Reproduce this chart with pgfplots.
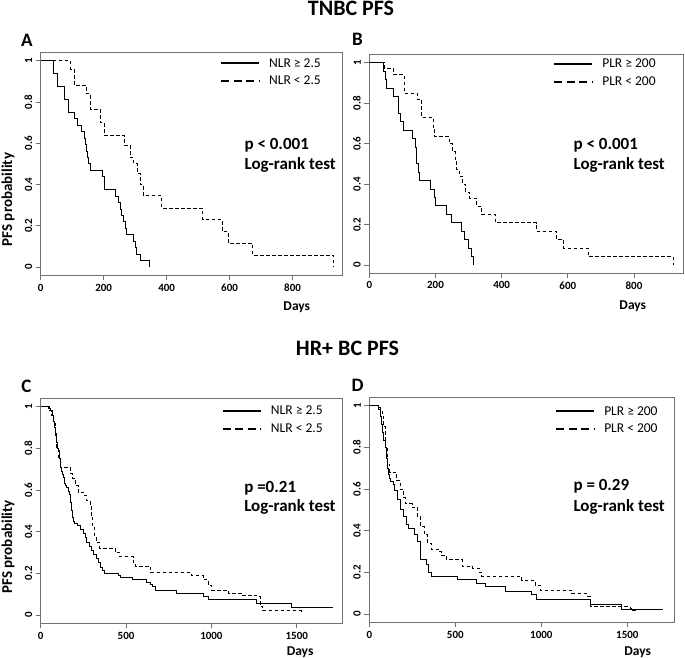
\documentclass[border=0pt]{standalone}
\usepackage{pgfplots}
\pgfplotsset{compat=1.18}
\usepackage{fontspec}
\setmainfont{Carlito}
\definecolor{boxgray}{HTML}{707070}
\begin{document}
\begin{tikzpicture}
\pgfplotsset{
  km/.style={
    scale only axis, xmin=0, ymin=-0.04, ymax=1.04, clip mode=individual,
    axis line style={draw=boxgray, line width=0.8pt},
    tick style={draw=boxgray, line width=0.8pt},
    tick align=outside, major tick length=5pt, tick pos=left,
    ytick={0,0.2,0.4,0.6,0.8,1},
    /pgf/number format/assume math mode=true,
    /pgf/number format/1000 sep={},
    ticklabel style={font=\bfseries\fontsize{11}{13}\selectfont},
    yticklabel style={rotate=90, anchor=south},
    legend image code/.code={\draw[#1] (0pt,0pt) -- (38pt,0pt);},
    legend style={draw=none, fill=none, inner sep=0pt, anchor=north west,
      font=\fontsize{13.5}{15}\selectfont, row sep=3pt,
      /tikz/every odd column/.append style={column sep=7pt}},
    legend cell align=left,
  },
  solidkm/.style={const plot, black, line width=0.9pt,
    legend image post style={line width=2pt}},
  dashkm/.style={const plot, black, line width=0.9pt, dash pattern=on 3.5pt off 2.5pt,
    legend image post style={line width=2pt, dash pattern=on 8pt off 4.5pt}},
}
\path[use as bounding box] (0pt,0pt) rectangle (685pt,658pt);

\node[font=\bfseries\fontsize{22}{24}\selectfont] at (351pt,650pt) {TNBC PFS};
\node[font=\bfseries\fontsize{22}{24}\selectfont] at (347.5pt,309.7pt) {HR+ BC PFS};
\node[font=\bfseries\fontsize{19}{21}\selectfont] at (27pt,617.5pt) {A};
\node[font=\bfseries\fontsize{19}{21}\selectfont] at (357.5pt,619pt) {B};
\node[font=\bfseries\fontsize{19}{21}\selectfont] at (26.5pt,272pt) {C};
\node[font=\bfseries\fontsize{19}{21}\selectfont] at (357.5pt,273pt) {D};

% A: TNBC, NLR
\begin{axis}[km, at={(40.7pt,382.7pt)}, anchor=south west,
  width=301.3pt, height=222.8pt, xmax=957, xtick={0,200,400,600,800},
  legend style={at={(axis description cs:0.595,0.984)}}]
\addplot[solidkm] coordinates {(0,1) (42,0.9375) (53,0.875) (74,0.8125) (88,0.75) (106,0.71875) (118,0.6875) (130,0.65625) (138,0.625) (143,0.59375) (146,0.5625) (149,0.53125) (153,0.5) (159,0.46875) (196,0.4375) (203,0.375) (238,0.34375) (247,0.3125) (252,0.28125) (256,0.25) (263,0.21875) (268,0.1875) (273,0.15625) (295,0.125) (300,0.09375) (305,0.0625) (318,0.03125) (344,0)};
\addlegendentry{NLR ≥ 2.5}
\addplot[dashkm] coordinates {(0,1) (95,0.96) (106,0.882) (144,0.84) (158,0.765) (189,0.70) (201,0.64) (265,0.59) (284,0.53) (295,0.5) (307,0.455) (316,0.40) (326,0.345) (385,0.285) (514,0.229) (577,0.172) (595,0.115) (673,0.057) (930,0)};
\addlegendentry{NLR < 2.5}
\node[anchor=west, font=\bfseries\fontsize{17}{19}\selectfont] at (axis description cs:0.665,0.585) {p < 0.001};
\node[anchor=west, font=\bfseries\fontsize{17}{19}\selectfont] at (axis description cs:0.665,0.495) {Log-rank test};
\node[font=\bfseries\fontsize{13.5}{15}\selectfont] at (axis description cs:0.85,-0.142) {Days};
\node[rotate=90, font=\bfseries\fontsize{15}{17}\selectfont] at (axis description cs:-0.108,0.34) {PFS probability};
\end{axis}

% B: TNBC, PLR
\begin{axis}[km, at={(369.3pt,384.9pt)}, anchor=south west,
  width=313.7pt, height=218.5pt, xmax=948, xtick={0,200,400,600,800},
  legend style={at={(axis description cs:0.586,0.989)}}]
\addplot[solidkm] coordinates {(0,1) (42,0.958) (49,0.917) (52,0.875) (73,0.833) (88,0.75) (93,0.708) (103,0.667) (131,0.625) (138,0.583) (143,0.5) (150,0.458) (153,0.417) (186,0.375) (198,0.333) (201,0.292) (234,0.25) (249,0.208) (279,0.167) (289,0.125) (299,0.083) (309,0.042) (314,0)};
\addlegendentry{PLR ≥ 200}
\addplot[dashkm] coordinates {(0,1) (47,0.97) (73,0.94) (105,0.85) (145,0.82) (158,0.73) (193,0.67) (198,0.635) (242,0.6) (252,0.56) (259,0.52) (264,0.47) (272,0.44) (282,0.4) (292,0.36) (304,0.33) (324,0.29) (340,0.25) (380,0.21) (506,0.167) (566,0.125) (588,0.083) (662,0.042) (919,0)};
\addlegendentry{PLR < 200}
\node[anchor=west, font=\bfseries\fontsize{17}{19}\selectfont] at (axis description cs:0.64,0.586) {p < 0.001};
\node[anchor=west, font=\bfseries\fontsize{17}{19}\selectfont] at (axis description cs:0.64,0.495) {Log-rank test};
\node[font=\bfseries\fontsize{13.5}{15}\selectfont] at (axis description cs:0.84,-0.152) {Days};
\end{axis}

% C: HR+ BC, NLR
\begin{axis}[km, at={(40.7pt,34.7pt)}, anchor=south west,
  width=301.3pt, height=225pt, xmax=1765, xtick={0,500,1000,1500},
  legend style={at={(axis description cs:0.601,0.975)}}]
\addplot[solidkm] coordinates {(0,1) (45,0.99) (60,0.98) (70,0.96) (75,0.93) (80,0.9) (85,0.86) (94,0.83) (98,0.8) (103,0.79) (108,0.75) (113,0.73) (118,0.71) (123,0.69) (128,0.675) (133,0.66) (138,0.645) (142,0.63) (147,0.62) (152,0.61) (160,0.595) (168,0.58) (172,0.56) (176,0.54) (180,0.5) (185,0.47) (190,0.45) (200,0.44) (215,0.43) (235,0.41) (250,0.39) (260,0.37) (270,0.35) (285,0.33) (300,0.31) (310,0.29) (325,0.27) (340,0.25) (350,0.23) (362,0.215) (375,0.2) (455,0.19) (470,0.18) (540,0.17) (620,0.155) (640,0.145) (655,0.135) (675,0.12) (797,0.104) (953,0.09) (982,0.075) (1265,0.056) (1470,0.035) (1711,0.035)};
\addlegendentry{NLR ≥ 2.5}
\addplot[dashkm] coordinates {(0,1) (50,0.98) (65,0.96) (75,0.92) (85,0.87) (95,0.8) (105,0.75) (117,0.71) (172,0.68) (185,0.656) (201,0.62) (221,0.59) (250,0.575) (270,0.55) (289,0.52) (295,0.47) (305,0.42) (315,0.38) (325,0.35) (345,0.32) (436,0.3) (461,0.28) (543,0.25) (553,0.235) (645,0.203) (885,0.188) (952,0.17) (980,0.144) (1002,0.12) (1099,0.104) (1177,0.096) (1265,0.088) (1285,0.04) (1300,0.02) (1510,0.02) (1529,0.01)};
\addlegendentry{NLR < 2.5}
\node[anchor=west, font=\bfseries\fontsize{17}{19}\selectfont] at (axis description cs:0.664,0.601) {p =0.21};
\node[anchor=west, font=\bfseries\fontsize{17}{19}\selectfont] at (axis description cs:0.664,0.517) {Log-rank test};
\node[font=\bfseries\fontsize{13.5}{15}\selectfont] at (axis description cs:0.861,-0.128) {Days};
\node[rotate=90, font=\bfseries\fontsize{15}{17}\selectfont] at (axis description cs:-0.108,0.34) {PFS probability};
\end{axis}

% D: HR+ BC, PLR
\begin{axis}[km, at={(369.3pt,35.7pt)}, anchor=south west,
  width=305pt, height=225pt, xmax=1773, xtick={0,500,1000,1500},
  legend style={at={(axis description cs:0.609,0.970)}}]
\addplot[solidkm] coordinates {(0,1) (52,0.99) (66,0.95) (71,0.91) (76,0.87) (81,0.835) (91,0.8) (100,0.745) (105,0.7) (110,0.67) (116,0.65) (122,0.635) (138,0.62) (148,0.595) (165,0.55) (180,0.5) (200,0.47) (215,0.43) (230,0.41) (260,0.38) (280,0.35) (295,0.3) (300,0.26) (330,0.24) (345,0.2) (360,0.18) (510,0.165) (620,0.147) (673,0.13) (789,0.108) (944,0.092) (973,0.068) (1283,0.044) (1467,0.024) (1706,0.024)};
\addlegendentry{PLR ≥ 200}
\addplot[dashkm] coordinates {(0,1) (55,0.98) (75,0.95) (85,0.9) (95,0.8) (105,0.72) (120,0.68) (160,0.64) (180,0.6) (200,0.56) (210,0.53) (250,0.51) (280,0.47) (300,0.42) (320,0.38) (340,0.34) (360,0.31) (400,0.3) (420,0.28) (450,0.26) (540,0.23) (600,0.22) (640,0.2) (653,0.182) (886,0.163) (963,0.139) (992,0.115) (1177,0.099) (1264,0.086) (1283,0.035) (1516,0.027) (1530,0.016) (1563,0.016)};
\addlegendentry{PLR < 200}
\node[anchor=west, font=\bfseries\fontsize{17}{19}\selectfont] at (axis description cs:0.658,0.606) {p = 0.29};
\node[anchor=west, font=\bfseries\fontsize{17}{19}\selectfont] at (axis description cs:0.658,0.512) {Log-rank test};
\node[font=\bfseries\fontsize{13.5}{15}\selectfont] at (axis description cs:0.88,-0.131) {Days};
\end{axis}
\end{tikzpicture}
\end{document}
